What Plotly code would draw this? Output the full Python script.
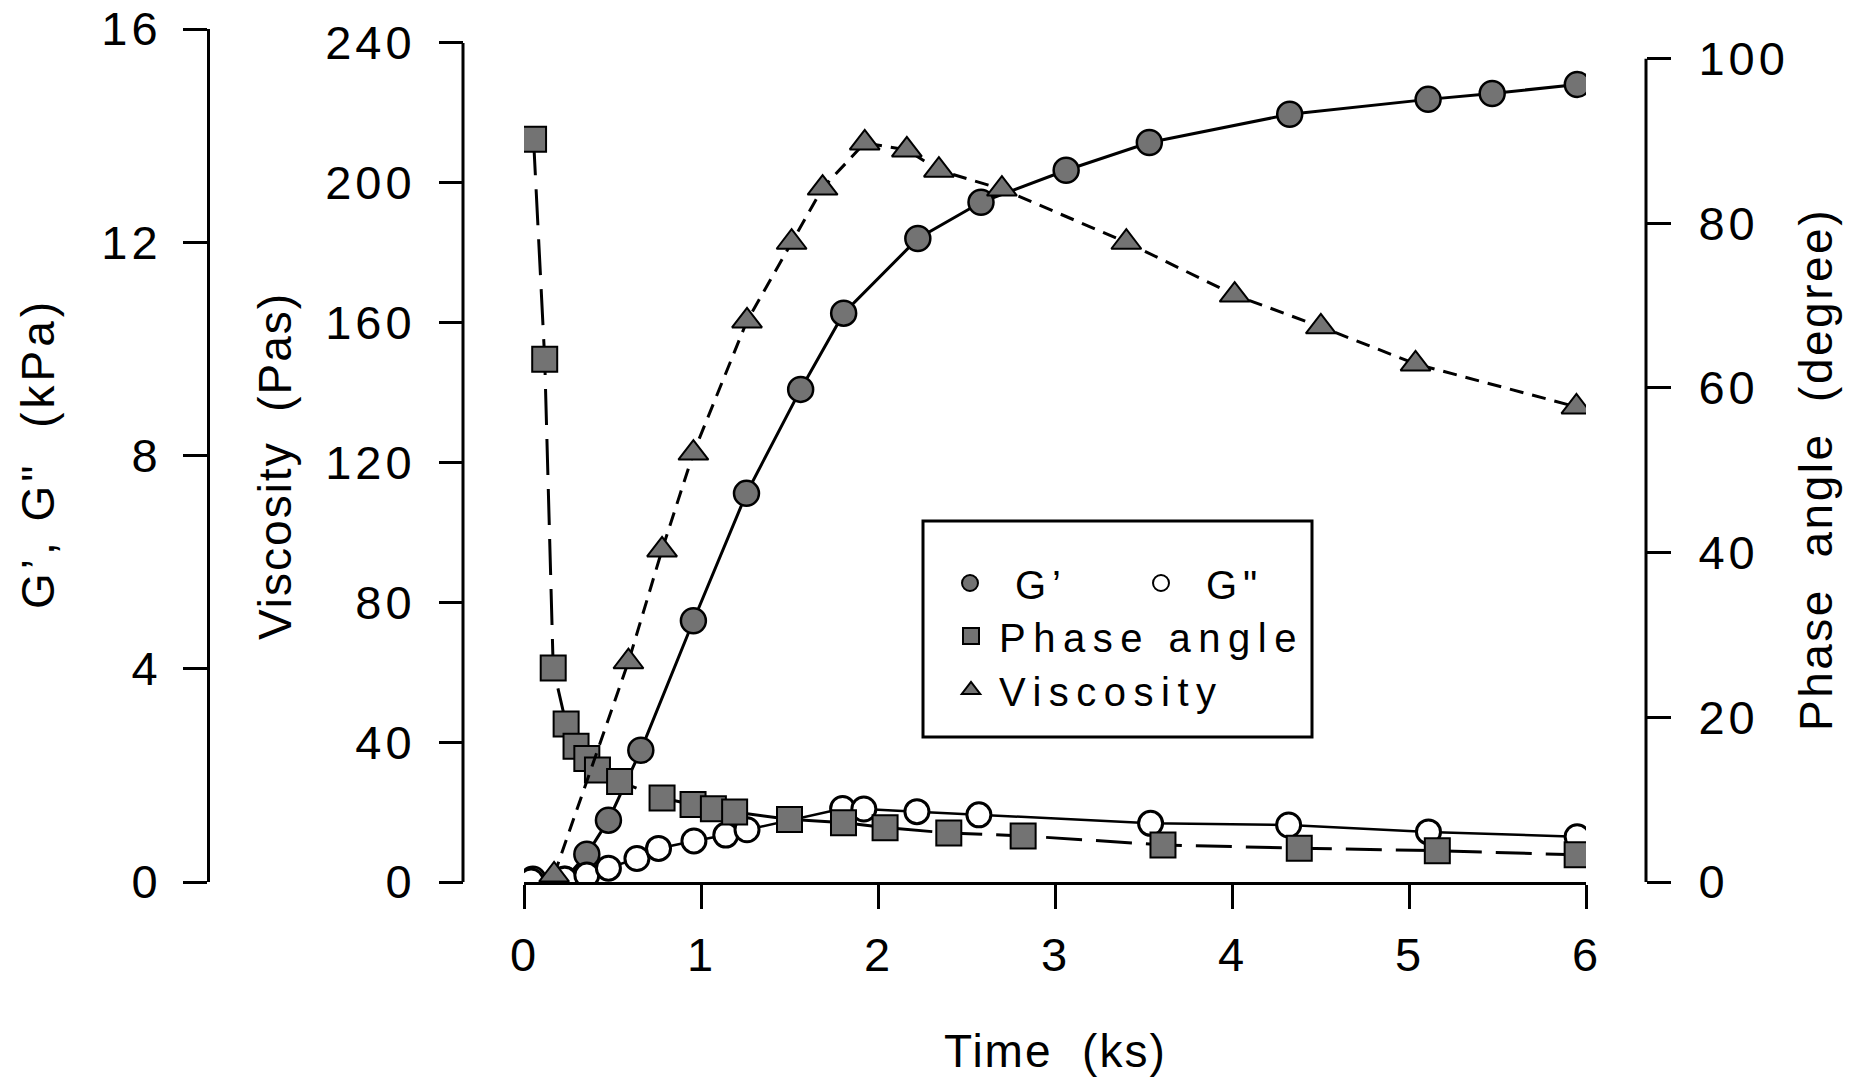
import plotly.graph_objects as go

# ---------------- data ----------------
time_g1 = [0.05, 0.23, 0.355, 0.477, 0.66, 0.957, 1.257, 1.563, 1.806, 2.225,
           2.582, 3.063, 3.533, 4.326, 5.108, 5.47, 5.951]
g_prime = [0.05, 0.05, 0.52, 1.16, 2.47, 4.90, 7.29, 9.24, 10.67, 12.07,
           12.75, 13.35, 13.87, 14.40, 14.68, 14.79, 14.96]

time_g2 = [0.04, 0.23, 0.355, 0.477, 0.638, 0.76, 0.96, 1.14, 1.26, 1.80,
           1.92, 2.22, 2.57, 3.54, 4.32, 5.11, 5.95]
g_double = [0.02, 0.05, 0.13, 0.26, 0.44, 0.63, 0.77, 0.88, 0.98, 1.38,
            1.37, 1.32, 1.26, 1.10, 1.07, 0.94, 0.85]

time_phase = [0.054, 0.117, 0.165, 0.238, 0.294, 0.355, 0.415, 0.54, 0.78, 0.955,
              1.07, 1.19, 1.50, 1.805, 2.04, 2.40, 2.82, 3.61, 4.38, 5.16, 5.95]
phase_angle = [90.2, 63.5, 26.0, 19.2, 16.5, 15.0, 13.6, 12.2, 10.2, 9.4,
               8.9, 8.5, 7.6, 7.2, 6.6, 5.95, 5.6, 4.5, 4.1, 3.8, 3.3]

time_visc = [0.17, 0.59, 0.78, 0.957, 1.26, 1.512, 1.687, 1.925, 2.163, 2.344,
             2.70, 3.403, 4.015, 4.502, 5.037, 5.946]
viscosity = [2, 63, 95, 122.7, 160.5, 183, 198.5, 211.4, 209.4, 203.6,
             198.2, 183, 167.9, 158.8, 148.2, 135.9]

x_ticks = [0, 1, 2, 3, 4, 5, 6]
g_ticks = [0, 4, 8, 12, 16]
visc_ticks = [0, 40, 80, 120, 160, 200, 240]
phase_ticks = [0, 20, 40, 60, 80, 100]

# ---------------- styling ----------------
W, H = 1865, 1081
FONT = "Liberation Sans, Arial, Helvetica, sans-serif"
GREY = "#737373"


def spaced(t, ls):
    return f'<span style="letter-spacing:{ls}px">{t}</span>'


def px_x(p):
    return p / W


def px_y(p):
    return 1 - p / H


x_dom = [px_x(524), px_x(1586)]
y_dom = [px_y(882), px_y(29)]

fig = go.Figure()

# G'
fig.add_trace(go.Scatter(
    x=time_g1, y=g_prime, yaxis="y", mode="lines+markers", name="G’",
    showlegend=False,
    line=dict(color="black", width=3),
    marker=dict(symbol="circle", size=25, color=GREY, line=dict(color="black", width=2.5)),
))
# G''
fig.add_trace(go.Scatter(
    x=time_g2, y=g_double, yaxis="y", mode="lines+markers", name='G"',
    showlegend=False,
    line=dict(color="black", width=2.5),
    marker=dict(symbol="circle", size=24, color="white", line=dict(color="black", width=3)),
))
# Phase angle (right axis)
fig.add_trace(go.Scatter(
    x=time_phase, y=phase_angle, yaxis="y2", mode="lines+markers", name="Phase angle",
    showlegend=False,
    line=dict(color="black", width=3, dash="36px,14px"),
    marker=dict(symbol="square", size=25, color=GREY, line=dict(color="black", width=2)),
))
# Viscosity
fig.add_trace(go.Scatter(
    x=time_visc, y=viscosity, yaxis="y3", mode="lines+markers", name="Viscosity",
    showlegend=False,
    line=dict(color="black", width=3, dash="14px,9px"),
    marker=dict(symbol="triangle-up", size=26, color=GREY, line=dict(color="black", width=2)),
))

# legend-only entries (marker symbols only, as in the reference legend)
LEG_FONT = dict(family=FONT, size=40, color="black")
leg_entries = [
    (spaced("G’", 6), dict(symbol="circle", size=16, color=GREY, line=dict(color="black", width=2)), "legend"),
    (spaced('G"', 6), dict(symbol="circle", size=16, color="white", line=dict(color="black", width=2)), "legend"),
    (spaced("Phase angle", 7.5), dict(symbol="square", size=16, color=GREY, line=dict(color="black", width=2)), "legend2"),
    (spaced("Viscosity", 7.5), dict(symbol="triangle-up", size=16, color=GREY, line=dict(color="black", width=2)), "legend3"),
]
for name, mk, lg in leg_entries:
    fig.add_trace(go.Scatter(x=[None], y=[None], mode="markers", name=name,
                             marker=mk, legend=lg, showlegend=True))

TICK_LS = 4
tick_common = dict(ticks="outside", ticklen=24, tickwidth=2.5, tickcolor="black",
                   showgrid=False, zeroline=False,
                   tickfont=dict(family=FONT, size=47, color="black"))

leg_common = dict(orientation="h", xanchor="left", yanchor="middle",
                  bgcolor="rgba(0,0,0,0)", borderwidth=0, font=LEG_FONT)

fig.update_layout(
    width=W, height=H,
    margin=dict(l=0, r=0, t=0, b=0, pad=0, autoexpand=False),
    paper_bgcolor="white", plot_bgcolor="white",
    font=dict(family=FONT, color="black"),
    xaxis=dict(domain=x_dom, range=[0, 6], anchor="y",
               showline=True, linecolor="black", linewidth=3,
               tickvals=x_ticks, ticktext=[spaced(v, 2) for v in x_ticks],
               ticklabelstandoff=6,
               **tick_common),
    yaxis=dict(domain=y_dom, range=[0, 16], anchor="free", position=px_x(208), side="left",
               showline=True, linecolor="black", linewidth=3,
               tickvals=g_ticks, ticktext=[spaced(v, TICK_LS) for v in g_ticks],
               ticklabelstandoff=12,
               **tick_common),
    yaxis2=dict(overlaying="y", range=[0, 103.6], anchor="free", position=px_x(1646), side="right",
                showline=False,
                tickvals=phase_ticks, ticktext=[spaced(v, TICK_LS) for v in phase_ticks],
                ticklabelstandoff=18,
                **tick_common),
    yaxis3=dict(overlaying="y", range=[0, 244.0], anchor="free", position=px_x(463), side="left",
                showline=False,
                tickvals=visc_ticks, ticktext=[spaced(v, TICK_LS) for v in visc_ticks],
                ticklabelstandoff=14,
                **tick_common),
    legend=dict(x=px_x(925), y=px_y(583), itemwidth=80, entrywidth=96,
                entrywidthmode="pixels", **leg_common),
    legend2=dict(x=px_x(943), y=px_y(636), itemwidth=46, **leg_common),
    legend3=dict(x=px_x(943), y=px_y(690), itemwidth=46, **leg_common),
    shapes=[
        # legend frame
        dict(type="rect", xref="paper", yref="paper",
             x0=px_x(923), x1=px_x(1312), y0=px_y(737), y1=px_y(521),
             line=dict(color="black", width=3), fillcolor="rgba(0,0,0,0)", layer="below"),
        # viscosity axis line (0 to 240)
        dict(type="line", xref="paper", yref="y3", x0=px_x(463), x1=px_x(463),
             y0=0, y1=240, line=dict(color="black", width=3)),
        # phase angle axis line (0 to 100)
        dict(type="line", xref="paper", yref="y2", x0=px_x(1646), x1=px_x(1646),
             y0=0, y1=100, line=dict(color="black", width=3)),
    ],
    annotations=[
        dict(text=spaced('G’, G"  (kPa)', 4), textangle=-90, xref="paper", yref="paper",
             x=px_x(38), y=px_y(454), xanchor="center", yanchor="middle", showarrow=False,
             font=dict(family=FONT, size=46, color="black")),
        dict(text=spaced("Viscosity  (Pas)", 2), textangle=-90, xref="paper", yref="paper",
             x=px_x(275), y=px_y(466), xanchor="center", yanchor="middle", showarrow=False,
             font=dict(family=FONT, size=46, color="black")),
        dict(text=spaced("Phase  angle  (degree)", 2.5), textangle=-90, xref="paper", yref="paper",
             x=px_x(1816), y=px_y(470), xanchor="center", yanchor="middle", showarrow=False,
             font=dict(family=FONT, size=46, color="black")),
        dict(text=spaced("Time  (ks)", 2), xref="paper", yref="paper",
             x=px_x(1055), y=px_y(1051), xanchor="center", yanchor="middle", showarrow=False,
             font=dict(family=FONT, size=46, color="black")),
    ],
)

fig.write_html("out.html")
